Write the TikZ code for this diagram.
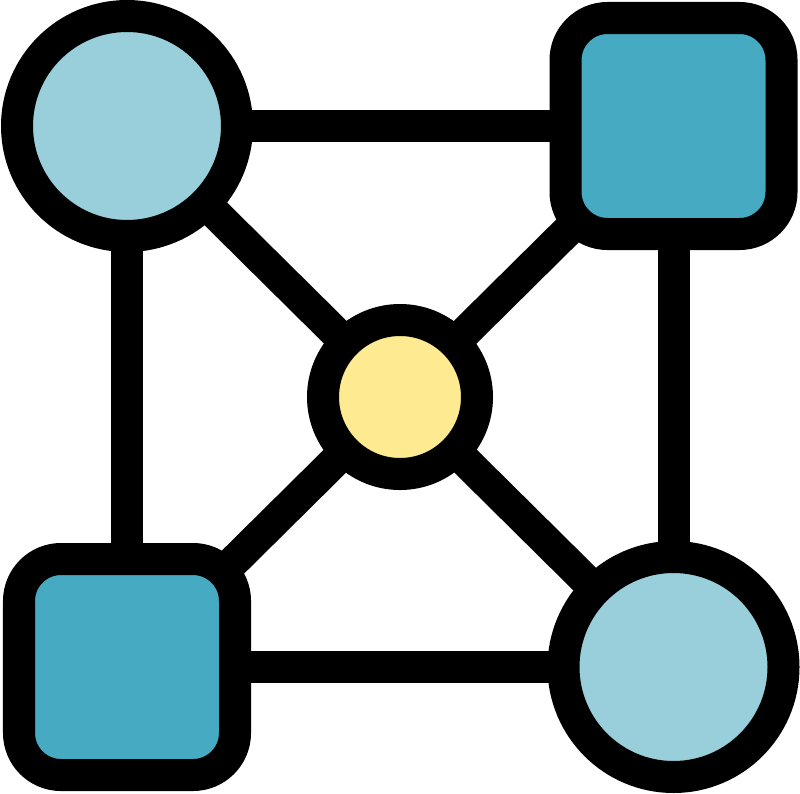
\documentclass[tikz,border=0pt]{standalone}
\usepackage{amsmath}
\usepackage{amssymb}
\usepackage{tikz}
\usetikzlibrary{backgrounds}

\definecolor{paleblue}{RGB}{152,207,219}
\definecolor{tealblue}{RGB}{69,170,194}
\definecolor{paleyellow}{RGB}{254,234,145}

\tikzset{
	roundnode/.style={circle,fill=paleblue,draw=black,line width=0.32cm,minimum size=2.2cm,inner sep=0pt},
	squarenode/.style={rectangle,rounded corners=0.42cm,fill=tealblue,draw=black,line width=0.32cm,minimum size=2.16cm,inner sep=0pt},
	hubnode/.style={circle,fill=paleyellow,draw=black,line width=0.32cm,minimum size=1.54cm,inner sep=0pt},
	link/.style={draw=black,line width=0.32cm}
}

\begin{document}
\begin{tikzpicture}
	\useasboundingbox (0,0) rectangle (8,7.93);
	\node [roundnode] (tl) at (1.27,6.67) {};
	\node [squarenode] (tr) at (6.735,6.67) {};
	\node [squarenode] (bl) at (1.27,1.26) {};
	\node [roundnode] (br) at (6.735,1.26) {};
	\node [hubnode] (hub) at (4.00,3.96) {};
	\begin{scope}[on background layer]
	\draw [link] (tl.center) -- (tr.center) (tl.center) -- (bl.center);
	\draw [link] (tr.center) -- (br.center) (bl.center) -- (br.center);
	\draw [link] (tl.center) -- (br.center) (tr.center) -- (bl.center);
	\end{scope}
    \end{tikzpicture}
\end{document}
